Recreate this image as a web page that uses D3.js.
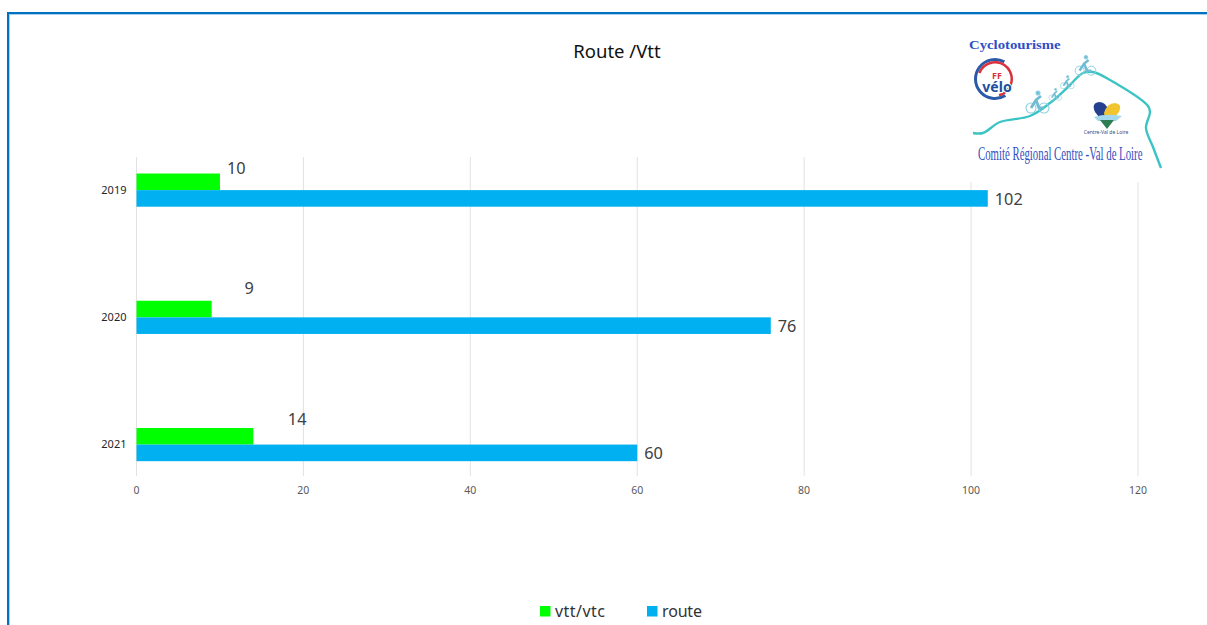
<!DOCTYPE html>
<html><head><meta charset="utf-8">
<script src="https://cdn.jsdelivr.net/npm/d3@7/dist/d3.min.js"></script>
<style>html,body{margin:0;padding:0;background:#fff;overflow:hidden}svg{display:block}text{font-family:"Noto Sans",sans-serif}</style>
</head><body><svg id="c" width="1207" height="625"></svg>
<script>
const years = ["2019","2020","2021"];
const vtt = [10,9,14];
const route = [102,76,60];
const xTicks = [0,20,40,60,80,100,120];
const seriesNames = ["vtt/vtc","route"];
const seriesColors = ["#00ff00","#00b0f0"];
const vttLabelShift = [[7,-22],[33,-29],[34.5,-25]];

const svg = d3.select("#c");
svg.append("rect").attr("x",8).attr("y",13).attr("width",1300).attr("height",700).attr("fill","#fff").attr("stroke","#0070c0").attr("stroke-width",2);
svg.append("rect").attr("x",9.5).attr("y",14.5).attr("width",1300).attr("height",700).attr("fill","none").attr("stroke","#a8d0ee").attr("stroke-width",1);

const x = d3.scaleLinear().domain([0,120]).range([136.5,1138]);
const y = d3.scaleBand().domain(years).range([126.5,508.2]);
const barH = 16.6;
const gridTop = 157, gridBottom = 476;

svg.append("g").selectAll("line").data(xTicks).join("line")
  .attr("x1",d=>x(d)).attr("x2",d=>x(d)).attr("y1",gridTop).attr("y2",gridBottom)
  .attr("stroke","#e2e2e2").attr("stroke-width",1);

const xAxis = svg.append("g").attr("transform",`translate(-0.6,${gridBottom})`)
  .call(d3.axisBottom(x).tickValues(xTicks).tickSize(0).tickPadding(10.5));
xAxis.select(".domain").remove();
xAxis.selectAll("text").attr("font-size",10.5).attr("fill","#595959").style("font-family",'"Noto Sans",sans-serif');

const yAxis = svg.append("g").attr("transform",`translate(136.5,0.2)`)
  .call(d3.axisLeft(y).tickSize(0).tickPadding(10));
yAxis.select(".domain").remove();
yAxis.selectAll("text").attr("font-size",11).attr("fill","#262626").style("font-family",'"Noto Sans",sans-serif');

const yc = d=>y(d)+y.bandwidth()/2;
svg.append("g").selectAll("rect").data(years).join("rect")
  .attr("x",x(0)).attr("y",d=>yc(d)-barH).attr("width",(d,i)=>x(vtt[i])-x(0)).attr("height",barH).attr("fill",seriesColors[0]);
svg.append("g").selectAll("rect").data(years).join("rect")
  .attr("x",x(0)).attr("y",d=>yc(d)).attr("width",(d,i)=>x(route[i])-x(0)).attr("height",barH).attr("fill",seriesColors[1]);

svg.append("g").selectAll("text").data(years).join("text")
  .attr("x",(d,i)=>x(vtt[i])+vttLabelShift[i][0]).attr("y",(d,i)=>yc(d)+vttLabelShift[i][1]+5.5)
  .attr("font-size",16.3).attr("fill","#404040").text((d,i)=>vtt[i]);
svg.append("g").selectAll("text").data(years).join("text")
  .attr("x",(d,i)=>x(route[i])+7).attr("y",d=>yc(d)+14.5)
  .attr("font-size",16.3).attr("fill","#404040").text((d,i)=>route[i]);

svg.append("text").attr("x",617).attr("y",58).attr("text-anchor","middle").attr("font-size",18.5).attr("fill","#111").text("Route /Vtt");

const legendX = [540,647];
const legendTextW = [50,40];
const lg = svg.append("g").selectAll("g").data(seriesNames).join("g").attr("transform",(d,i)=>`translate(${legendX[i]},606)`);
lg.append("rect").attr("width",10.5).attr("height",10.5).attr("fill",(d,i)=>seriesColors[i]);
lg.append("text").attr("x",15).attr("y",11).attr("font-size",16).attr("fill","#333")
  .attr("textLength",(d,i)=>legendTextW[i]).attr("lengthAdjust","spacing").text(d=>d);

// logo: an opaque picture laid over the top of the plot
svg.append("rect").attr("x",950).attr("y",20).attr("width",250).attr("height",162).attr("fill","#fff");
const logo = svg.append("g");
logo.append("text").attr("transform","translate(969,48.5) scale(1.18,1)")
  .attr("font-size",12.5).attr("font-weight","bold").attr("fill","#2f4fc4").style("font-family",'"Liberation Serif",serif').text("Cyclotourisme");
logo.append("text").attr("transform","translate(978,160) scale(0.6,1)")
  .attr("font-size",18).attr("fill","#3350c0").style("font-family",'"Liberation Serif",serif').text("Comité Régional Centre -Val de Loire");
const trail = [[973,133],[983,133],[1000,122],[1030,116],[1050,103],[1067,88],[1083,73],[1093,72],[1110,80],[1148,106],[1150,112],[1146,128],[1153,147],[1161,168]];
logo.append("path").attr("d",d3.line().curve(d3.curveCatmullRom)(trail)).attr("fill","none").attr("stroke","#3cc4c4").attr("stroke-width",2.4);
// FF velo badge
const arc = d3.arc();
logo.append("path").attr("transform","translate(995,79)").attr("d",arc({innerRadius:18,outerRadius:21,startAngle:-3.7,endAngle:0.5})).attr("fill","#2a5aa8");
logo.append("path").attr("transform","translate(995,79)").attr("d",arc({innerRadius:15.5,outerRadius:18,startAngle:-1.2,endAngle:2.9})).attr("fill","#d8323c");
logo.append("text").attr("x",997).attr("y",78.5).attr("text-anchor","middle").attr("font-size",9).attr("font-weight","bold").attr("fill","#d8323c").text("FF");
logo.append("text").attr("x",997).attr("y",92).attr("text-anchor","middle").attr("font-size",14).attr("font-weight","bold")
  .attr("fill","#20509c").attr("stroke","#fff").attr("stroke-width",2).attr("paint-order","stroke").text("vélo");
// cyclists
const riders = [[1037,105,1],[1055,96,.55],[1067,84,.6],[1085,68,.9]];
riders.forEach(([cx,cy,s])=>{
  const g = logo.append("g").attr("transform",`translate(${cx},${cy}) scale(${s})`).attr("fill","none").attr("stroke","#8fd0e0").attr("stroke-width",1.1);
  g.append("circle").attr("cx",-6).attr("cy",3).attr("r",5);
  g.append("circle").attr("cx",7).attr("cy",3).attr("r",5);
  g.append("path").attr("d","M-6 3L-1 -5L4 -9M-1 -5L2 3L7 3").attr("stroke","#6fbcd4").attr("stroke-width",2.8);
  g.append("circle").attr("cx",1).attr("cy",-12).attr("r",2).attr("fill","#6fbcd4");
});
// heart
logo.append("path").attr("d","M1107 127L1095 112Q1091 103 1099 102Q1106 102 1108 110Z").attr("fill","#24408e");
logo.append("path").attr("d","M1107 127L1119 112Q1123 104 1115 103Q1107 103 1104 113Z").attr("fill","#f2c530");
logo.append("path").attr("d","M1094 117Q1106 113 1122 116L1116 121H1098Z").attr("fill","#a4d8ec");
logo.append("path").attr("d","M1107 129L1100 120H1114Z").attr("fill","#2f7d52");
logo.append("text").attr("x",1106).attr("y",134).attr("text-anchor","middle").attr("font-size",5).attr("fill","#3a4a80").text("Centre-Val de Loire");
</script></body></html>
